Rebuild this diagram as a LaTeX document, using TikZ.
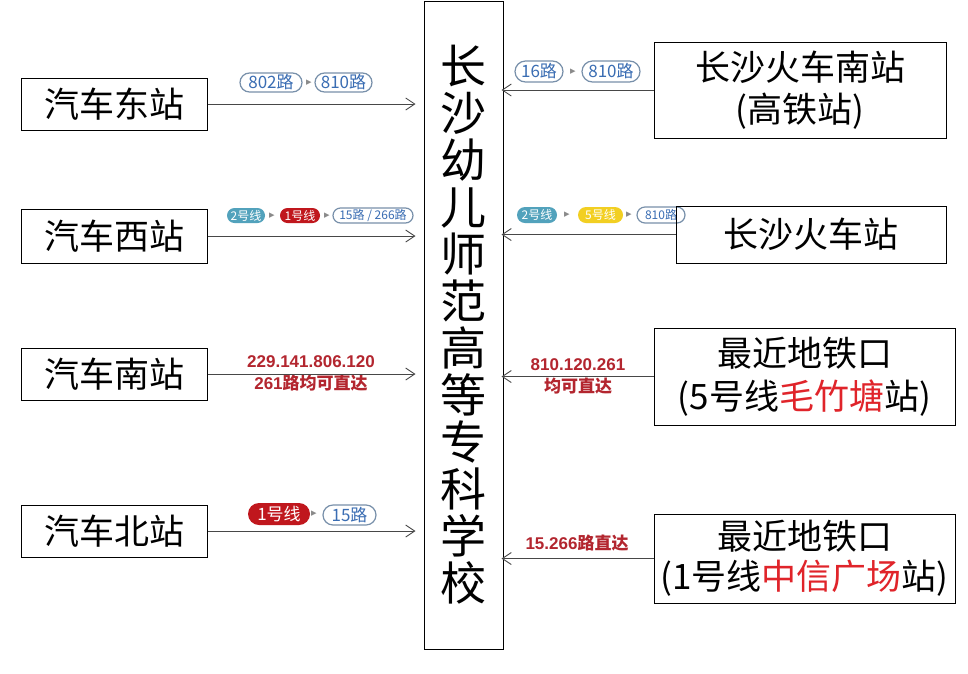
\documentclass[tikz,border=0pt]{standalone}
\usepackage{fontspec}
\setmainfont{Noto Sans CJK SC}
\newfontfamily\arialf{Liberation Sans}
\newfontfamily\dejavu{DejaVu Sans}
\usetikzlibrary{arrows.meta,shapes.misc}
\definecolor{lineg}{HTML}{484848}
\definecolor{obline}{HTML}{7890AA}
\definecolor{obtext}{HTML}{3A6DB3}
\definecolor{tealb}{HTML}{52A2BC}
\definecolor{redb}{HTML}{C0171D}
\definecolor{yelb}{HTML}{F2CF22}
\definecolor{trig}{HTML}{8A8A8A}
\definecolor{redlab}{HTML}{B3262F}
\definecolor{redtxt}{HTML}{E0242A}
\begin{document}
\begin{tikzpicture}[x=1pt,y=-1pt,
  box/.style={draw=black, line width=1pt, inner sep=0pt, align=center,
    font=\fontsize{35}{42}\selectfont},
  arr/.style={draw=lineg, line width=0.9pt,
    -{Straight Barb[length=9pt,width=12pt,line width=0.9pt]}},
  pill/.style={rounded rectangle, inner sep=0pt, line width=1.2pt},
  ob/.style={pill, draw=obline, fill=white, text=obtext},
  fb/.style={pill, text=white},
  tri/.style={text=trig, inner sep=0pt, font=\dejavu\fontsize{11}{11}\selectfont},
  redl/.style={text=redlab, align=center, inner sep=0pt,
    font=\fontsize{17}{22}\selectfont\bfseries},
]
\useasboundingbox (0,0) rectangle (968,673);
\fill[white] (0,0) rectangle (968,673);

% central box
\node[box, minimum width=79pt, minimum height=648pt,
  font=\fontsize{46}{47}\selectfont] (school) at (463.5,325)
  {长\\沙\\幼\\儿\\师\\范\\高\\等\\专\\科\\学\\校};

% left boxes
\node[box, minimum width=186pt, minimum height=52pt] (east) at (114,104) {汽车东站};
\node[box, minimum width=186pt, minimum height=54pt] (west) at (114,236) {汽车西站};
\node[box, minimum width=186pt, minimum height=52pt] (south) at (114,374) {汽车南站};
\node[box, minimum width=186pt, minimum height=52pt] (north) at (114,531) {汽车北站};

% left badges
\node[ob, minimum width=62pt, minimum height=19pt, font=\fontsize{17}{17}\selectfont] (b11) at (271,82.5) {802路};
\node[tri] (t11) at (309,82.5) {▸};
\node[ob, minimum width=57pt, minimum height=19pt, font=\fontsize{17}{17}\selectfont] (b12) at (343.5,82.5) {810路};

\node[fb, fill=tealb, minimum width=38pt, minimum height=15pt, font=\fontsize{12}{12}\selectfont] (b21) at (246,215.5) {2号线};
\node[tri] (t21) at (272,215.5) {▸};
\node[fb, fill=redb, minimum width=40pt, minimum height=15pt, font=\fontsize{12}{12}\selectfont] (b22) at (300,215.5) {1号线};
\node[tri] (t22) at (327,215.5) {▸};
\node[ob, minimum width=80pt, minimum height=15pt, font=\fontsize{12}{12}\selectfont] (b23) at (373,215.5) {15路 / 266路};

\node[redl] (l3) at (311,373) {{\arialf 229.141.806.120}\\{\arialf 261}路均可直达};

\node[fb, fill=redb, minimum width=62pt, minimum height=22pt, font=\fontsize{17}{17}\selectfont] (b41) at (279,514) {1号线};
\node[tri] (t41) at (314,514) {▸};
\node[ob, minimum width=53pt, minimum height=20pt, font=\fontsize{17}{17}\selectfont] (b42) at (349.5,515) {15路};

% right badges
\node[ob, minimum width=48pt, minimum height=21pt, font=\fontsize{17}{17}\selectfont] (r11) at (539,71.5) {16路};
\node[tri] (rt11) at (573,71.5) {▸};
\node[ob, minimum width=58pt, minimum height=21pt, font=\fontsize{17}{17}\selectfont] (r12) at (611,71.5) {810路};

\node[fb, fill=tealb, minimum width=40pt, minimum height=16pt, font=\fontsize{12}{12}\selectfont] (r21) at (537,215) {2号线};
\node[tri] (rt21) at (567,215) {▸};
\node[fb, fill=yelb, minimum width=45pt, minimum height=16pt, font=\fontsize{12}{12}\selectfont] (r22) at (600.5,215) {5号线};
\node[tri] (rt22) at (629,215) {▸};
\node[ob, minimum width=48pt, minimum height=16pt, font=\fontsize{12}{12}\selectfont] (r23) at (661,215) {810路};

\node[redl] (rl3) at (578,376) {{\arialf 810.120.261}\\均可直达};
\node[redl] (rl4) at (577,543) {{\arialf 15.266}路直达};

% right boxes
\node[box, minimum width=292pt, minimum height=96pt] (hsr) at (800,90) {长沙火车南站\\(高铁站)};
\node[box, minimum width=270pt, minimum height=57pt] (csz) at (811,234.5) {长沙火车站};
\node[box, minimum width=301pt, minimum height=97pt, font=\fontsize{35}{43}\selectfont] (mzt) at (804.5,376.5)
  {最近地铁口\\(5号线{\color{redtxt}毛竹塘}站)};
\node[box, minimum width=301pt, minimum height=89pt, font=\fontsize{35}{40}\selectfont] (zxgc) at (804.5,558.5)
  {最近地铁口\\(1号线{\color{redtxt}中信广场}站)};

% connectors
\draw[arr, shorten >=8pt] (east.east) -- (east.east -| school.west);
\draw[arr, shorten >=8pt] (west.east) -- (west.east -| school.west);
\draw[arr, shorten >=8pt] (south.east) -- (south.east -| school.west);
\draw[arr, shorten >=8pt] (north.east) -- (north.east -| school.west);
\draw[arr, shorten >=-2pt] (hsr.west) -- (hsr.west -| school.east);
\draw[arr, shorten >=-2pt] (csz.west) -- (csz.west -| school.east);
\draw[arr, shorten >=-2pt] (mzt.west) -- (mzt.west -| school.east);
\draw[arr, shorten >=-2pt] (zxgc.west) -- (zxgc.west -| school.east);
\end{tikzpicture}
\end{document}
